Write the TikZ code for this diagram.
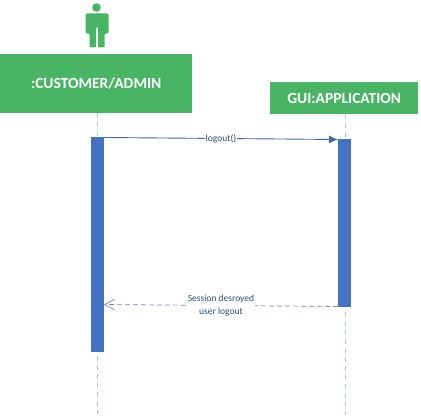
\documentclass[tikz,border=0pt]{standalone}
\usepackage{fontspec}
\setmainfont{Carlito}
\usetikzlibrary{arrows.meta}
\definecolor{grn}{HTML}{47B564}
\definecolor{lifegrn}{HTML}{A5D6B0}
\definecolor{barblue}{HTML}{4472C4}
\definecolor{msg}{HTML}{3F66AE}
\definecolor{lbl}{HTML}{2F4F80}
\tikzset{
  x=1pt,y=-1pt,
  headbox/.style={fill=grn,text=white,font=\bfseries\fontsize{15.5}{18}\selectfont,inner sep=0,anchor=north west},
  bar/.style={fill=barblue,inner sep=0,anchor=north west},
  life/.style={draw=lifegrn,line width=0.9pt,dash pattern=on 5pt off 4pt},
  msglabel/.style={fill=white,text=lbl,font=\fontsize{9.5}{13}\selectfont,inner sep=1pt,align=center}
}
\begin{document}
\begin{tikzpicture}
\useasboundingbox (0,0) rectangle (421,419);
% actor
\fill[grn] (96.5,7.5) circle (4.3);
\fill[grn,rounded corners=1.2pt] (85.5,13.5) -- (108.5,13.5) -- (108.5,33.5) -- (104.5,33.5) -- (104.5,47.5) -- (98,47.5) -- (98,27) -- (96,27) -- (96,47.5) -- (89.5,47.5) -- (89.5,33.5) -- (85.5,33.5) -- cycle;
% lifelines
\node[headbox,minimum width=192,minimum height=59] (cust) at (0,54) {:CUSTOMER/ADMIN};
\node[headbox,minimum width=148,minimum height=32] (gui) at (270,82) {GUI:APPLICATION};
\coordinate (custend) at (97,414);
\coordinate (guiend) at (345,415);
\draw[life] (97,113) -- (custend);
\draw[life] (345,114) -- (guiend);
\node[bar,minimum width=13,minimum height=215] (barA) at (91,137) {};
\node[bar,minimum width=13,minimum height=168] (barB) at (338,139) {};
% messages
\coordinate (m1s) at (104,137.5);
\coordinate (m1e) at (338,139.5);
\draw[draw=msg,line width=0.9pt,-{Latex[length=9pt,width=8pt]}] (m1s) -- (m1e)
  node[msglabel,pos=0.5] (logout) {logout()};
\coordinate (m2s) at (338,306.5);
\coordinate (m2e) at (104,304.5);
\draw[draw=msg!75,line width=0.7pt,dash pattern=on 5pt off 3pt,-{Straight Barb[length=10pt,width=11pt]}] (m2s) -- (m2e)
  node[msglabel,pos=0.5] (sess) {Session desroyed\\user logout};
\end{tikzpicture}
\end{document}
